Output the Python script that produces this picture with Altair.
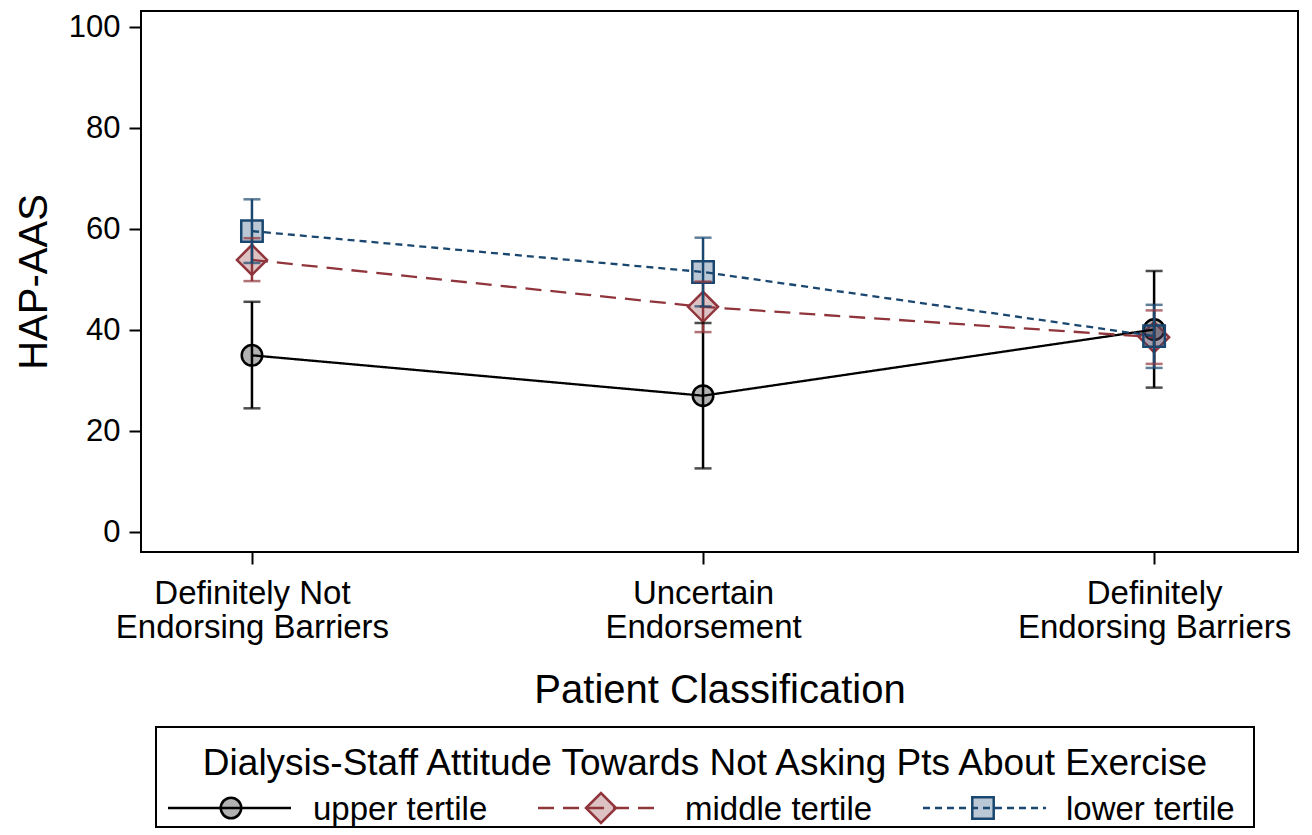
import altair as alt
import pandas as pd

# ---------------- data ----------------
cat_pos = [1, 2, 3]
cat_labels = [["Definitely Not", "Endorsing Barriers"],
              ["Uncertain", "Endorsement"],
              ["Definitely", "Endorsing Barriers"]]
series = ["upper tertile", "middle tertile", "lower tertile"]

upper_mean = [35.0, 27.0, 40.1]
upper_lo = [24.5, 12.6, 28.6]
upper_hi = [45.6, 41.4, 51.7]

middle_mean = [53.9, 44.6, 38.6]
middle_lo = [49.7, 39.6, 33.3]
middle_hi = [58.2, 49.6, 43.9]

lower_mean = [59.6, 51.5, 38.8]
lower_lo = [53.3, 44.7, 32.5]
lower_hi = [65.9, 58.3, 45.0]

y_ticks = [0, 20, 40, 60, 80, 100]

legend_title = "Dialysis-Staff Attitude Towards Not Asking Pts About Exercise"

# ---------------- styles ----------------
colors = ["#000000", "#90353B", "#1A476F"]
dashes = [[1, 0], [16, 9], [7, 5]]
shapes = ["circle", "diamond", "square"]
sizes = [420, 900, 460]
FONT = "Liberation Sans"

rows = []
for s, m, lo, hi in zip(series,
                        [upper_mean, middle_mean, lower_mean],
                        [upper_lo, middle_lo, lower_lo],
                        [upper_hi, middle_hi, lower_hi]):
    for x, a, b, c in zip(cat_pos, m, lo, hi):
        rows.append({"series": s, "x": x, "mean": a, "lo": b, "hi": c})
df = pd.DataFrame(rows)

col_scale = alt.Scale(domain=series, range=colors)
dash_scale = alt.Scale(domain=series, range=dashes)
shape_scale = alt.Scale(domain=series, range=shapes)
size_scale = alt.Scale(type="ordinal", domain=series, range=sizes)

label_expr = " : ".join(
    f"datum.value == {p} ? ['{l[0]}', '{l[1]}']" for p, l in zip(cat_pos[:-1], cat_labels[:-1])
) + f" : ['{cat_labels[-1][0]}', '{cat_labels[-1][1]}']"


def x_enc():
    return alt.X("x:Q",
                 scale=alt.Scale(domain=[0.754, 3.319], nice=False, zero=False),
                 axis=alt.Axis(values=cat_pos, labelExpr=label_expr,
                               title="Patient Classification", grid=False,
                               labelFontSize=33, labelLineHeight=34,
                               labelPadding=13, tickSize=12, tickWidth=2,
                               labelLimit=500,
                               labelOverlap=False, labelFlush=False,
                               titleFontSize=40, titleFontWeight="normal",
                               titlePadding=26))


def y_enc(field):
    return alt.Y(f"{field}:Q",
                 scale=alt.Scale(domain=[-3.96, 103.2], nice=False, zero=False),
                 axis=alt.Axis(values=y_ticks, title="HAP-AAS", grid=False,
                               labelFontSize=31, labelPadding=9, tickSize=12,
                               tickWidth=2, titleFontSize=40,
                               titleFontWeight="normal", titlePadding=14))


base = alt.Chart(df)

markers = base.mark_point(filled=True, fillOpacity=0.3, opacity=1, strokeWidth=2.5).encode(
    x=x_enc(), y=y_enc("mean"),
    shape=alt.Shape("series:N", scale=shape_scale, legend=None),
    fill=alt.Fill("series:N", scale=col_scale, legend=None),
    stroke=alt.Stroke("series:N", scale=col_scale, legend=None),
    size=alt.Size("series:N", scale=size_scale, legend=None),
)

lines = base.mark_line(strokeWidth=2.3).encode(
    x=x_enc(), y=y_enc("mean"),
    stroke=alt.Stroke("series:N", scale=col_scale, legend=None),
    strokeDash=alt.StrokeDash("series:N", scale=dash_scale, legend=None),
    detail="series:N",
)

bars = base.mark_rule(strokeWidth=2.5).encode(
    x=x_enc(), y=y_enc("lo"), y2="hi:Q",
    stroke=alt.Stroke("series:N", scale=col_scale, legend=None),
)

caps_lo = base.mark_tick(orient="horizontal", size=17, thickness=2.5).encode(
    x=x_enc(), y=y_enc("lo"),
    fill=alt.Fill("series:N", scale=col_scale, legend=None),
)
caps_hi = base.mark_tick(orient="horizontal", size=17, thickness=2.5).encode(
    x=x_enc(), y=y_enc("hi"),
    fill=alt.Fill("series:N", scale=col_scale, legend=None),
)

main = alt.layer(markers, lines, bars, caps_lo, caps_hi).properties(width=1157, height=541)

# ---------------- manual legend ----------------
LW, LH = 1098, 100
leg = pd.DataFrame({
    "series": series,
    "x0": [12, 382, 767],
    "x1": [135, 507, 890],
    "xs": [75, 445, 827],
    "xt": [157, 529, 910],
})
leg["yrow"] = 81
leg["ytext"] = 93
tdf = pd.DataFrame({"title": [legend_title], "x": [LW / 2], "y": [48]})

lx = alt.Scale(domain=[0, LW], nice=False, zero=False)
ly = alt.Scale(domain=[0, LH], nice=False, zero=False, reverse=True)

lb = alt.Chart(leg)
leg_sym = lb.mark_point(filled=True, fillOpacity=0.3, opacity=1, strokeWidth=2.5).encode(
    x=alt.X("xs:Q", scale=lx, axis=None), y=alt.Y("yrow:Q", scale=ly, axis=None),
    shape=alt.Shape("series:N", scale=shape_scale, legend=None),
    fill=alt.Fill("series:N", scale=col_scale, legend=None),
    stroke=alt.Stroke("series:N", scale=col_scale, legend=None),
    size=alt.Size("series:N", scale=size_scale, legend=None),
)
leg_line = lb.mark_rule(strokeWidth=2.3).encode(
    x=alt.X("x0:Q", scale=lx, axis=None), x2="x1:Q",
    y=alt.Y("yrow:Q", scale=ly, axis=None),
    stroke=alt.Stroke("series:N", scale=col_scale, legend=None),
    strokeDash=alt.StrokeDash("series:N", scale=dash_scale, legend=None),
)
leg_txt = lb.mark_text(align="left", baseline="alphabetic", fontSize=33, color="black").encode(
    x=alt.X("xt:Q", scale=lx, axis=None), y=alt.Y("ytext:Q", scale=ly, axis=None),
    text="series:N",
)
leg_title = alt.Chart(tdf).mark_text(align="center", baseline="alphabetic", fontSize=37, color="black").encode(
    x=alt.X("x:Q", scale=lx, axis=None), y=alt.Y("y:Q", scale=ly, axis=None),
    text="title:N",
)
legend = alt.layer(leg_sym, leg_line, leg_txt, leg_title).properties(width=LW, height=LH)

spacer = alt.Chart(pd.DataFrame({"v": [0]})).mark_point(opacity=0).encode(
    x=alt.X("v:Q", axis=None), y=alt.Y("v:Q", axis=None)
).properties(width=1, height=LH, view=alt.ViewBackground(stroke=None))

bottom = alt.hconcat(spacer, legend, spacing=10)

chart = alt.vconcat(main, bottom, spacing=15).properties(
    padding={"left": 5, "top": 2, "right": 5, "bottom": 0}
).configure(font=FONT).configure_view(
    stroke="black", strokeWidth=2
).configure_axis(
    domain=False, labelColor="black", tickColor="black", titleColor="black",
    labelFont=FONT, titleFont=FONT
).configure_text(font=FONT)

chart.save("out.html", embed_options={"renderer": "svg", "actions": False})
